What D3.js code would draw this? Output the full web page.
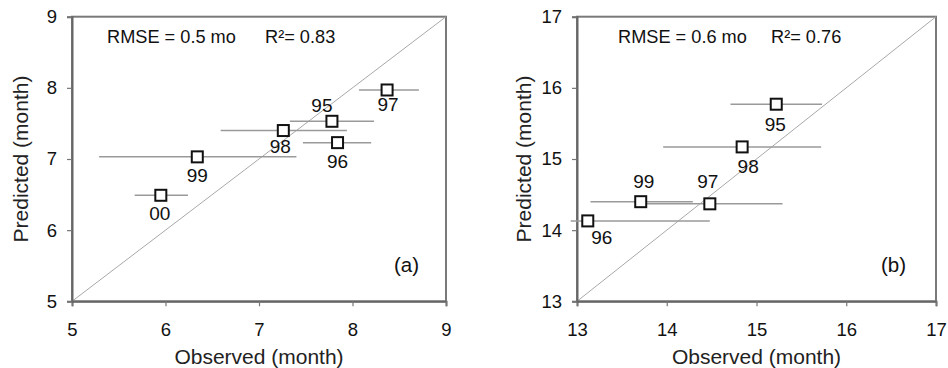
<!DOCTYPE html>
<html>
<head>
<meta charset="utf-8">
<script src="https://cdn.jsdelivr.net/npm/d3@7"></script>
<style>
  body { margin: 0; background: #fff; }
  svg { display: block; font-family: "Liberation Sans", Arial, Helvetica, sans-serif; }
</style>
</head>
<body>
<svg id="chart" width="948" height="368"></svg>
<script>
// panel (a)
const yearsA = ["95", "96", "97", "98", "99", "00"];
const obsA   = [7.78, 7.84, 8.37, 7.26, 6.34, 5.95];
const predA  = [7.53, 7.23, 7.97, 7.40, 7.03, 6.49];
const lowA   = [7.33, 7.47, 8.07, 6.59, 5.29, 5.67];
const highA  = [8.23, 8.20, 8.71, 7.94, 7.40, 6.24];
const ticksA = [5, 6, 7, 8, 9];

// panel (b)
const yearsB = ["95", "96", "97", "98", "99"];
const obsB   = [15.22, 13.12, 14.48, 14.84, 13.71];
const predB  = [15.77, 14.13, 14.37, 15.17, 14.40];
const lowB   = [14.71, 12.93, 13.77, 13.96, 13.15];
const highB  = [15.73, 14.48, 15.29, 15.72, 14.29];
const ticksB = [13, 14, 15, 16, 17];

const statsA = ["RMSE = 0.5 mo", "R\u00b2= 0.83"];
const statsB = ["RMSE = 0.6 mo", "R\u00b2= 0.76"];

const svg = d3.select("#chart");

const panels = [
  {
    years: yearsA, obs: obsA, pred: predA, low: lowA, high: highA, ticks: ticksA,
    stats: statsA, tag: "(a)",
    x0: 72, x1: 446, statX: [107, 265], tagX: 394, ytitleX: 28,
    // label offsets (dx, baseline dy) per year
    labelOff: { "95": [-10, -9], "96": [0, 25], "97": [1, 21], "98": [-3, 22], "99": [0, 25], "00": [-1, 25] }
  },
  {
    years: yearsB, obs: obsB, pred: predB, low: lowB, high: highB, ticks: ticksB,
    stats: statsB, tag: "(b)",
    x0: 577, x1: 936, statX: [618, 771], tagX: 881, ytitleX: 531,
    labelOff: { "95": [-1, 27], "96": [14, 23], "97": [-2, -16], "98": [6, 26], "99": [3, -14] }
  }
];

const yTop = 16.7, yBot = 301.3;

panels.forEach(p => {
  const dom = [p.ticks[0], p.ticks[p.ticks.length - 1]];
  const x = d3.scaleLinear().domain(dom).range([p.x0, p.x1]);
  const y = d3.scaleLinear().domain(dom).range([yBot, yTop]);
  const g = svg.append("g");

  // frame
  g.append("rect")
    .attr("x", p.x0).attr("y", yTop)
    .attr("width", p.x1 - p.x0).attr("height", yBot - yTop)
    .attr("fill", "none").attr("stroke", "#7a7a7a").attr("stroke-width", 2);

  // 1:1 line
  g.append("line")
    .attr("x1", x(dom[0])).attr("y1", y(dom[0]))
    .attr("x2", x(dom[1])).attr("y2", y(dom[1]))
    .attr("stroke", "#a8a8a8").attr("stroke-width", 1);

  // axes
  const xAxis = g.append("g")
    .attr("transform", `translate(0,${yBot})`)
    .call(d3.axisBottom(x).tickValues(p.ticks).tickSize(5).tickPadding(17).tickFormat(d3.format("d")));
  const yAxis = g.append("g")
    .attr("transform", `translate(${p.x0},0)`)
    .call(d3.axisLeft(y).tickValues(p.ticks).tickSize(5).tickPadding(10).tickFormat(d3.format("d")));
  [xAxis, yAxis].forEach(a => {
    a.select(".domain").attr("stroke", "#666").attr("stroke-width", 2);
    a.selectAll(".tick line").attr("stroke", "#777").attr("stroke-width", 1.2);
    a.selectAll(".tick text")
      .attr("fill", "#111")
      .style("font-size", "18.5px");
  });

  // error bars
  g.append("g").selectAll("line")
    .data(p.years)
    .join("line")
      .attr("x1", (d, i) => x(p.low[i]))
      .attr("x2", (d, i) => x(p.high[i]))
      .attr("y1", (d, i) => y(p.pred[i]))
      .attr("y2", (d, i) => y(p.pred[i]))
      .attr("stroke", "#9a9a9a").attr("stroke-width", 1.5);

  // markers
  const s = 11;
  g.append("g").selectAll("rect")
    .data(p.years)
    .join("rect")
      .attr("x", (d, i) => x(p.obs[i]) - s / 2)
      .attr("y", (d, i) => y(p.pred[i]) - s / 2)
      .attr("width", s).attr("height", s)
      .attr("fill", "#fff").attr("stroke", "#111").attr("stroke-width", 2);

  // year labels
  g.append("g").selectAll("text")
    .data(p.years)
    .join("text")
      .attr("x", (d, i) => x(p.obs[i]) + p.labelOff[d][0])
      .attr("y", (d, i) => y(p.pred[i]) + p.labelOff[d][1])
      .attr("text-anchor", "middle")
      .attr("fill", "#111")
      .style("font-size", "19px")
      .text(d => d);

  // stats
  g.append("g").selectAll("text")
    .data(p.stats)
    .join("text")
      .attr("x", (d, i) => p.statX[i])
      .attr("y", 43.3)
      .attr("fill", "#111")
      .style("font-size", "18.2px")
      .text(d => d);

  // panel tag
  g.append("text")
    .attr("x", p.tagX).attr("y", 272)
    .attr("fill", "#111")
    .style("font-size", "20.5px")
    .text(p.tag);

  // axis titles
  g.append("text")
    .attr("x", (p.x0 + p.x1) / 2).attr("y", 364)
    .attr("text-anchor", "middle")
    .attr("fill", "#222")
    .style("font-size", "21px")
    .text("Observed (month)");
  g.append("text")
    .attr("transform", `translate(${p.ytitleX},${(yTop + yBot) / 2}) rotate(-90)`)
    .attr("text-anchor", "middle")
    .attr("fill", "#222")
    .style("font-size", "21px")
    .text("Predicted (month)");
});
</script>
</body>
</html>
